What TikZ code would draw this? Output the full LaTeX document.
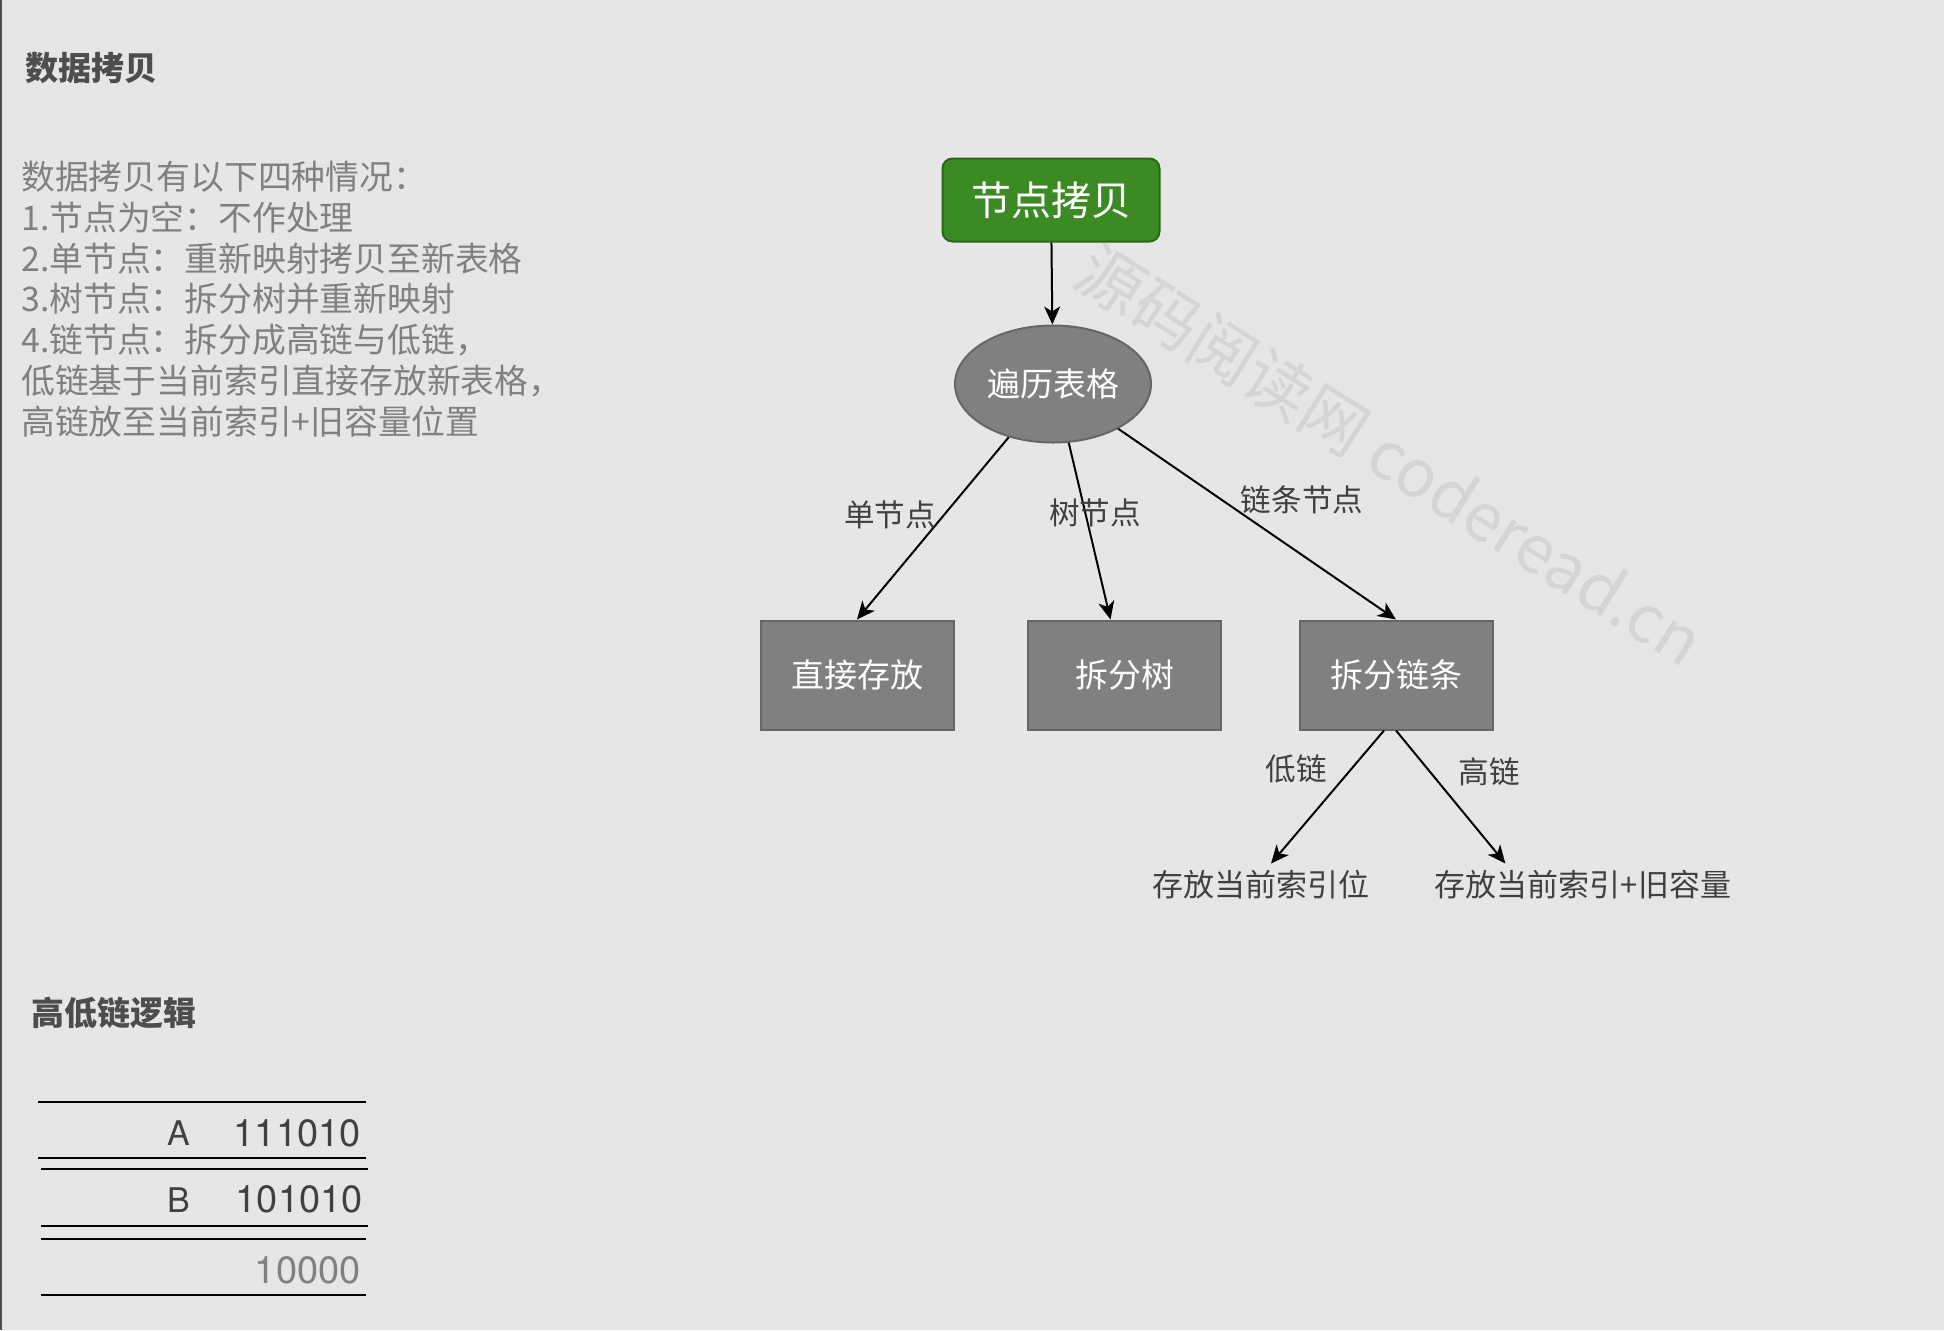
\documentclass[tikz,border=0pt]{standalone}
\usepackage{fontspec}
\setmainfont{TeX Gyre Heros}
\newfontfamily\cjk{Noto Sans CJK SC}
\usetikzlibrary{shapes.geometric, arrows.meta, calc}

\definecolor{canvas}{HTML}{E6E6E6}
\definecolor{bodytext}{HTML}{808080}
\definecolor{headtext}{HTML}{4D4D4D}
\definecolor{labeltext}{HTML}{404040}
\definecolor{copygreen}{HTML}{3C8A24}
\definecolor{copyedge}{HTML}{2D6616}
\definecolor{stepgray}{HTML}{808080}
\definecolor{stepedge}{HTML}{666666}
\definecolor{wmark}{HTML}{D5D5D5}

\begin{document}
\begin{tikzpicture}[
    x=0.5pt, y=-0.5pt,
    heading/.style={anchor=base west, inner sep=0pt, text=headtext,
                    font=\cjk\bfseries\fontsize{16.5}{20}\selectfont},
    note/.style={anchor=north west, inner sep=0pt, align=left, text=bodytext,
                 font=\cjk\fontsize{16.9}{20.35}\selectfont},
    copybox/.style={rectangle, rounded corners=5pt, draw=copyedge, fill=copygreen, line width=1pt,
                    minimum width=108.5pt, minimum height=41.5pt, text=white, font=\cjk\fontsize{20}{24}\selectfont},
    loopnode/.style={ellipse, draw=stepedge, fill=stepgray, line width=1pt, inner sep=0pt,
                     minimum width=98pt, minimum height=58.5pt, text=white, font=\cjk\fontsize{16.5}{20}\selectfont},
    stepbox/.style={rectangle, draw=stepedge, fill=stepgray, line width=1pt,
                    minimum width=96.5pt, minimum height=54.5pt, text=white, font=\cjk\fontsize{16.5}{20}\selectfont},
    edgelabel/.style={text=labeltext, font=\cjk\fontsize{15.3}{18}\selectfont},
    goal/.style={text=labeltext, font=\cjk\fontsize{15.5}{18}\selectfont},
    arr/.style={draw=black, line width=1pt, -{Stealth[length=9pt, width=8pt, inset=2.5pt]}},
    rule/.style={draw=black, line width=1pt},
    bit/.style={anchor=base east, inner sep=0pt, font=\fontsize{19}{22}\selectfont},
    regname/.style={anchor=base, inner sep=0pt, text=labeltext, font=\fontsize{17}{20}\selectfont}
]

% Canvas
\fill[canvas] (0,0) rectangle (1944,1330);
\useasboundingbox (0,0) rectangle (1944,1330);
\draw[headtext, line width=1pt] (1,0) -- (1,1330);

% Watermark
\node[rotate=-32.2, text=wmark, font=\cjk\fontsize{33}{40}\selectfont] (mark) at (1390,455) {源码阅读网 coderead.cn};

% Notes
\node[heading] (title) at (25,80.5) {数据拷贝};
\node[note] (cases) at (21,161) {数据拷贝有以下四种情况：\\1.节点为空：不作处理\\2.单节点：重新映射拷贝至新表格\\3.树节点：拆分树并重新映射\\4.链节点：拆分成高链与低链，\\低链基于当前索引直接存放新表格，\\高链放至当前索引+旧容量位置};

% Flow
\node[copybox] (copy) at (1051,200) {节点拷贝};
\node[loopnode] (trav) at (1053,384) {遍历表格};
\node[stepbox] (direct) at (857,675) {直接存放};
\node[stepbox] (tree) at (1124.5,675) {拆分树};
\node[stepbox] (chain) at (1396,675) {拆分链条};
\node[goal] (low) at (1261,885) {存放当前索引位};
\node[goal] (high) at (1583,885) {存放当前索引+旧容量};

\draw[arr] (copy) -- (trav);
\draw[arr] (trav) -- (direct.north);
\draw[arr] (trav.-75) -- ($(tree.north)+(-14,0)$);
\draw[arr] (trav) -- (chain.north);
\draw[arr] ($(chain.south)+(-12,0)$) -- ($(low.north)+(10,0)$);
\draw[arr] (chain.south) -- ($(high.north west)!0.25!(high.north east)$);

% Edge labels
\node[edgelabel] (l1) at (890,515) {单节点};
\node[edgelabel] (l2) at (1095,513) {树节点};
\node[edgelabel] (l3) at (1302,500) {链条节点};
\node[edgelabel] (l4) at (1296,769) {低链};
\node[edgelabel] (l5) at (1489,772) {高链};

% High / low chain logic
\node[heading] (logic) at (31,1025.5) {高低链逻辑};
\draw[rule] (38,1102) -- (366,1102);
\node[regname] (ra) at (179,1145) {A};
\node[bit, text=labeltext] (va) at (361,1146) {111010};
\draw[rule] (38,1158) -- (366,1158);
\draw[rule] (41,1169) -- (368,1169);
\node[regname] (rb) at (179,1212) {B};
\node[bit, text=labeltext] (vb) at (363,1212) {101010};
\draw[rule] (41,1226) -- (368,1226);
\draw[rule] (41,1239) -- (366,1239);
\node[bit, text=bodytext] (vc) at (361,1283) {10000};
\draw[rule] (41,1295) -- (366,1295);

\end{tikzpicture}
\end{document}
